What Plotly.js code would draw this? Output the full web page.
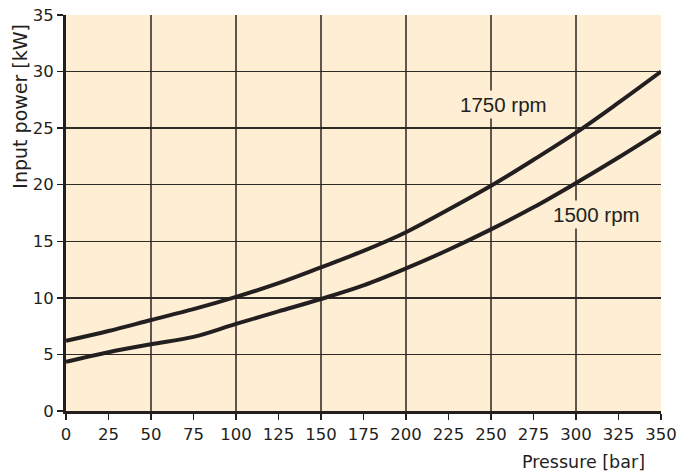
<!DOCTYPE html>
<html><head><meta charset="utf-8">
<script src="https://cdn.plot.ly/plotly-3.0.1.min.js"></script>
<style>html,body{margin:0;padding:0;background:#fff}#chart{width:698px;height:473px}</style>
</head><body><div id="chart"></div>
<script>
const pressure = [0, 25, 50, 75, 100, 125, 150, 175, 200, 225, 250, 275, 300, 325, 350];
const power1750 = [6.2, 7.07, 8.04, 9.0, 10.08, 11.3, 12.7, 14.15, 15.8, 17.8, 19.9, 22.2, 24.6, 27.25, 30.0];
const power1500 = [4.35, 5.2, 5.9, 6.55, 7.7, 8.8, 9.9, 11.1, 12.6, 14.25, 16.05, 18.0, 20.15, 22.4, 24.75];
const xTicks = [0, 25, 50, 75, 100, 125, 150, 175, 200, 225, 250, 275, 300, 325, 350];
const yTicks = [0, 5, 10, 15, 20, 25, 30, 35];
const xGrid = [50, 100, 150, 200, 250, 300, 350];
const yGrid = [5, 10, 15, 20, 25, 30];
const labels = [{text: '1750 rpm', x: 257.5, y: 27.13}, {text: '1500 rpm', x: 312.3, y: 17.41}];

const ink = '#231f20';
const bg = '#fdeed4';
const tickFont = {family: 'DejaVu Sans, sans-serif', size: 16.5, color: ink};
const labelFont = {family: 'Liberation Sans, Arial, sans-serif', size: 20.5, color: ink};

const traces = [
  {x: pressure, y: power1750, mode: 'lines', line: {color: ink, width: 4, shape: 'spline', smoothing: 1}, hoverinfo: 'skip', name: '1750 rpm'},
  {x: pressure, y: power1500, mode: 'lines', line: {color: ink, width: 4, shape: 'spline', smoothing: 1}, hoverinfo: 'skip', name: '1500 rpm'},
  {x: [0], y: [0], xaxis: 'x2', yaxis: 'y2', mode: 'markers', marker: {opacity: 0}, hoverinfo: 'skip', showlegend: false}
];

const layout = {
  width: 698, height: 473,
  margin: {l: 66, r: 37, t: 15, b: 62},
  paper_bgcolor: '#ffffff',
  plot_bgcolor: bg,
  showlegend: false,
  font: tickFont,
  xaxis: {
    range: [0, 350], tickvals: xTicks, ticktext: xTicks.map(String),
    showgrid: false, zeroline: false,
    showline: true, linecolor: ink, linewidth: 3,
    ticks: 'outside', ticklen: 6, tickwidth: 1.5, tickcolor: ink,
    tickfont: tickFont, fixedrange: true
  },
  yaxis: {
    range: [0, 35], tickvals: yTicks, ticktext: yTicks.map(String),
    showgrid: false, zeroline: false,
    showline: true, linecolor: ink, linewidth: 3,
    ticks: 'outside', ticklen: 6, tickwidth: 1.5, tickcolor: ink,
    tickfont: tickFont, fixedrange: true
  },
  xaxis2: {
    overlaying: 'x', matches: 'x', range: [0, 350], tickvals: xGrid,
    showticklabels: false, ticks: '', showgrid: true, gridcolor: '#5e564f', gridwidth: 2,
    zeroline: false, showline: false, layer: 'below traces'
  },
  yaxis2: {
    overlaying: 'y', matches: 'y', range: [0, 35], tickvals: yGrid,
    showticklabels: false, ticks: '', showgrid: true, gridcolor: '#2e2a28', gridwidth: 1.5,
    zeroline: false, showline: false, layer: 'below traces'
  },
  annotations: [
    ...labels.map(l => ({text: l.text, x: l.x, y: l.y, xref: 'x', yref: 'y', showarrow: false, font: labelFont, xanchor: 'center', yanchor: 'middle', bgcolor: bg, borderpad: 2})),
    {text: 'Pressure [bar]', xref: 'paper', yref: 'paper', x: 0.9765, y: -0.129, xanchor: 'right', yanchor: 'middle', showarrow: false, font: {family: 'DejaVu Sans, sans-serif', size: 17.5, color: ink}},
    {text: 'Input power [kW]', xref: 'paper', yref: 'paper', x: -0.0773, y: 0.982, xanchor: 'center', yanchor: 'top', textangle: -90, showarrow: false, font: {family: 'DejaVu Sans, sans-serif', size: 19, color: ink}}
  ]
};

Plotly.newPlot('chart', traces, layout, {displayModeBar: false, staticPlot: true});
</script></body></html>
